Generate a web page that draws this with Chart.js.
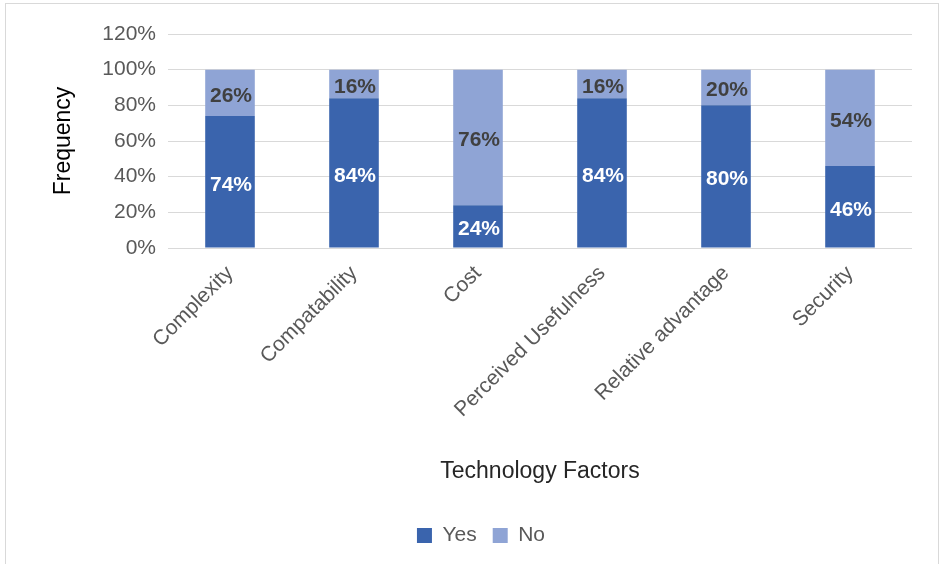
<!DOCTYPE html>
<html><head><meta charset="utf-8">
<script src="https://cdn.jsdelivr.net/npm/chart.js@4/dist/chart.umd.min.js"></script>
<style>
html,body{margin:0;padding:0;background:#fff;}
#wrap{position:absolute;left:0;top:0;width:943px;height:564px;}
#frame{position:absolute;left:5px;top:3px;width:934px;height:570px;border:1px solid #d9d9d9;box-sizing:border-box;}
canvas{position:absolute;left:0;top:0;}
</style></head>
<body>
<div id="wrap"><div id="frame"></div><canvas id="c" width="943" height="564"></canvas></div>
<script>
const categories = ["Complexity","Compatability","Cost","Perceived Usefulness","Relative advantage","Security"];
const yesValues = [74,84,24,84,80,46];
const noValues = [26,16,76,16,20,54];
const yTicks = [0,20,40,60,80,100,120];
const FONT = '"Liberation Sans", Arial, sans-serif';

const labelPlugin = {
  id:'barLabels',
  afterDatasetsDraw(chart){
    const ctx = chart.ctx;
    ctx.save();
    ctx.font = 'bold 21px ' + FONT;
    ctx.textAlign = 'center';
    ctx.textBaseline = 'middle';
    chart.data.datasets.forEach((ds,i)=>{
      const meta = chart.getDatasetMeta(i);
      meta.data.forEach((el,j)=>{
        const cy = (el.y + el.base)/2;
        ctx.fillStyle = i===0 ? '#ffffff' : '#404040';
        ctx.fillText(ds.data[j] + '%', el.x + 1, cy + 3);
      });
    });
    ctx.restore();
  }
};

new Chart(document.getElementById('c'), {
  type:'bar',
  data:{
    labels: categories,
    datasets:[
      {label:'Yes', data: yesValues, backgroundColor:'#3a64ad', categoryPercentage:1, barPercentage:0.4},
      {label:'No', data: noValues, backgroundColor:'#8fa4d5', categoryPercentage:1, barPercentage:0.4}
    ]
  },
  options:{
    responsive:false,
    animation:false,
    layout:{padding:{left:50,right:31,top:34,bottom:8}},
    plugins:{
      legend:{
        position:'bottom',
        labels:{boxWidth:15,boxHeight:15,font:{size:21,family:FONT},color:'#595959',padding:16}
      },
      tooltip:{enabled:false}
    },
    scales:{
      x:{
        stacked:true,
        afterFit(scale){ scale.height = 261; },
        grid:{display:false},
        border:{display:false},
        ticks:{maxRotation:45,minRotation:45,color:'#595959',font:{size:21,family:FONT},padding:5},
        title:{display:true,text:'Technology Factors',color:'#262626',font:{size:23,family:FONT},padding:{top:0,bottom:24}}
      },
      y:{
        stacked:true,
        min:0,max:120,
        afterBuildTicks(scale){ scale.ticks = yTicks.map(v=>({value:v})); },
        afterFit(scale){ scale.width = 118; },
        grid:{color:'#d9d9d9',lineWidth:1,drawTicks:false},
        border:{display:false},
        ticks:{color:'#595959',padding:12,font:{size:21,family:FONT},callback:v=>v+'%'},
        title:{display:true,text:'Frequency',color:'#000000',font:{size:23,family:FONT},padding:{top:0,bottom:0}}
      }
    }
  },
  plugins:[labelPlugin]
});
</script>
</body></html>
